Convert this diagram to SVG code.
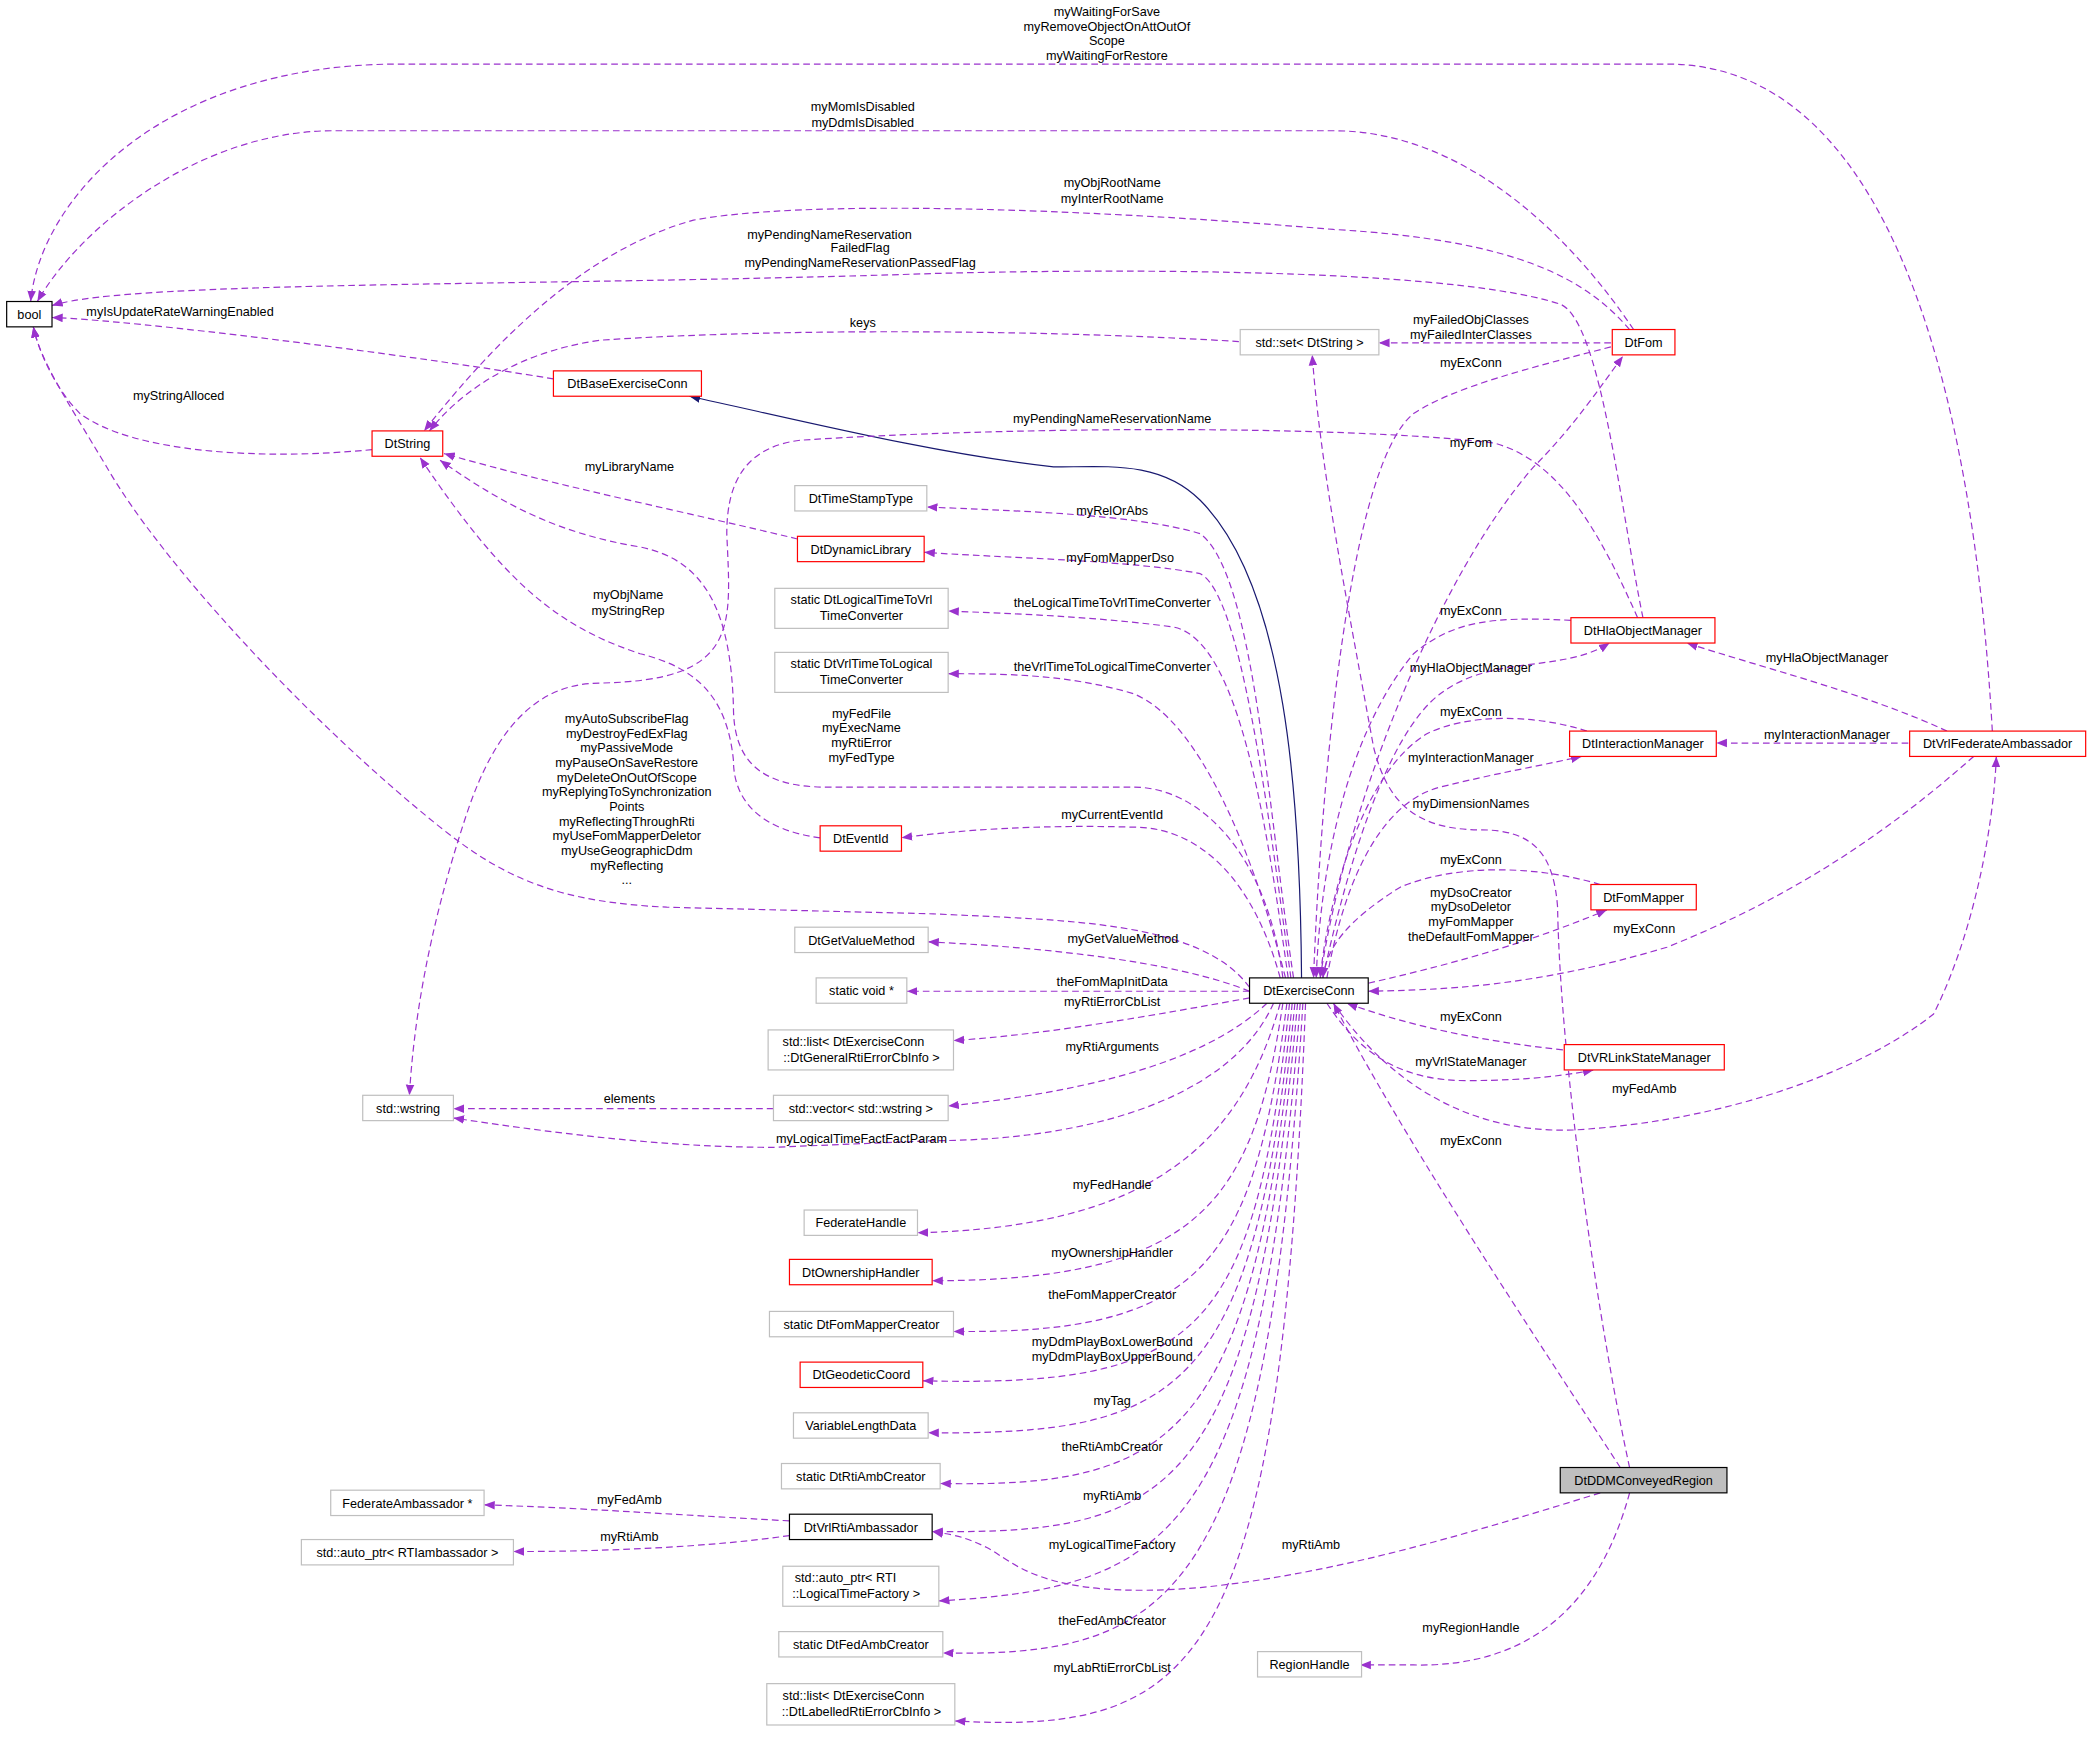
<svg xmlns="http://www.w3.org/2000/svg" width="2091" height="1737" viewBox="0 0 2091 1737">
<defs>
<marker id="a" viewBox="0 0 10 10" refX="10" refY="5" markerWidth="8" markerHeight="8" markerUnits="userSpaceOnUse" orient="auto"><path d="M0,1 L10,5 L0,9 z" fill="#9a32cd"/></marker>
<marker id="n" viewBox="0 0 10 10" refX="10" refY="5" markerWidth="8" markerHeight="8" markerUnits="userSpaceOnUse" orient="auto"><path d="M0,1 L10,5 L0,9 z" fill="#191970"/></marker>
</defs>
<style>
text{font-family:"Liberation Sans",Arial,sans-serif;font-size:9.5px;fill:#000;text-anchor:middle}
.e path{fill:none;stroke:#9a32cd;stroke-dasharray:5,3;marker-end:url(#a);stroke-width:0.9}
.e path.inh{stroke:#191970;stroke-dasharray:none;marker-end:url(#n)}
rect{fill:#fff;stroke-width:0.9}
.g rect{stroke:#bfbfbf}
.r rect{stroke:#ff0000}
.k rect{stroke:#000}
</style>
<rect x="0" y="0" width="2091" height="1737" fill="#fff" stroke="none"/>
<g transform="scale(1.33355,1.3341)">
<g class="e" id="edges">
<path d="M1494,548 C1480,300 1420,48 1250,48 L300,48 C120,48 30,150 23,226"/>
<path d="M1225,247 C1180,180 1100,98 1000,98 L250,98 C150,98 60,170 28,226"/>
<path d="M1222,247 C1190,210 1140,180 1000,172 C800,155 600,150 520,165 C430,190 360,270 318,323"/>
<path d="M1232,463 C1215,380 1200,240 1170,228 C1100,205 900,200 700,205 C400,215 100,210 39,229"/>
<path d="M415,284 C300,265 100,240 39,238"/>
<path d="M929,256 C800,248 600,245 450,255 C380,265 340,300 322,323"/>
<path d="M279,337 C200,345 100,340 60,310 C40,290 28,260 25,245"/>
<path class="inh" d="M976,733 C975,600 965,440 900,375 C870,345 830,350 790,350 C700,340 600,315 517,297"/>
<path d="M1228,463 C1200,400 1170,345 1120,332 C1000,318 750,320 600,330 C560,335 545,360 545,400 C548,470 555,510 450,512 C400,512 370,550 350,610 C320,700 310,770 307,821"/>
<path d="M1208,257 L1034,257"/>
<path d="M1208,260 C1150,275 1090,290 1060,310 C1010,350 990,600 985,733"/>
<path d="M990,733 C1010,600 1080,430 1150,350 C1180,320 1200,290 1217,267"/>
<path d="M1222,1100 C1200,1000 1170,800 1168,680 C1165,640 1150,622 1110,622 C1060,622 1040,600 1030,560 C1010,450 990,350 984,266"/>
<path d="M970,733 C950,600 940,430 900,400 C850,385 760,383 695,380"/>
<path d="M968,733 C950,600 930,445 900,430 C850,420 750,418 693,414"/>
<path d="M966,733 C950,620 930,480 880,470 C820,462 760,460 711,458"/>
<path d="M964,733 C940,640 900,540 850,520 C800,505 750,505 711,505"/>
<path d="M598,404 C520,385 420,365 333,340"/>
<path d="M615,628 C570,622 550,600 550,570 C545,520 520,500 480,490 C420,470 380,440 315,343"/>
<path d="M962,733 C950,640 900,590 850,590 L620,590 C570,590 550,570 550,530 C548,460 530,420 480,410 C420,400 380,380 330,345"/>
<path d="M960,733 C940,660 900,620 850,620 C780,618 720,622 676,628"/>
<path d="M937,740 C900,690 800,690 700,685 L500,680 C420,676 380,660 330,620 C230,540 120,420 80,350 C50,300 30,270 25,245"/>
<path d="M937,743 C880,720 780,710 696,706"/>
<path d="M937,743 L680,743"/>
<path d="M937,748 C870,760 790,775 715,780"/>
<path d="M950,752 C900,800 800,820 711,829"/>
<path d="M580,831 L340,831"/>
<path d="M955,752 C920,830 800,855 700,855 L580,860 C500,860 420,850 340,838"/>
<path d="M960,752 C930,860 860,920 688,924"/>
<path d="M962,752 C940,900 900,960 699,960"/>
<path d="M965,752 C940,950 900,1000 715,998"/>
<path d="M967,752 C940,1000 900,1040 692,1035"/>
<path d="M969,752 C940,1050 880,1075 696,1074"/>
<path d="M971,752 C940,1080 880,1115 705,1112"/>
<path d="M973,752 C940,1120 880,1150 699,1148"/>
<path d="M975,752 C945,1150 880,1190 704,1200"/>
<path d="M977,752 C950,1200 880,1242 707,1239"/>
<path d="M979,752 C960,1250 900,1300 716,1290"/>
<path d="M592,1140 C500,1135 430,1130 363,1128"/>
<path d="M592,1151 C530,1160 450,1163 385,1163"/>
<path d="M1200,1119 C1100,1150 1000,1180 900,1190 C780,1200 760,1170 740,1160 C720,1150 710,1150 699,1148"/>
<path d="M1222,1119 C1200,1200 1150,1250 1060,1248 L1020,1248"/>
<path d="M1215,1100 C1150,1000 1050,850 1000,752"/>
<path d="M1178,465 C1120,462 1090,465 1060,490 C1010,550 990,650 987,733"/>
<path d="M992,733 C1010,650 1040,550 1080,520 C1120,490 1170,505 1207,482"/>
<path d="M1190,548 C1150,535 1100,535 1070,550 C1020,580 995,680 990,733"/>
<path d="M995,733 C1010,650 1040,600 1080,590 C1120,580 1150,575 1186,567"/>
<path d="M1460,548 C1400,520 1320,500 1265,482"/>
<path d="M1431,557 L1287,557"/>
<path d="M1200,663 C1150,648 1090,648 1050,665 C1010,690 995,710 992,733"/>
<path d="M1026,737 C1100,720 1150,705 1205,682"/>
<path d="M1480,567 C1420,620 1350,670 1250,710 C1150,740 1080,742 1026,743"/>
<path d="M1172,787 C1110,780 1060,770 1010,752"/>
<path d="M995,752 C1020,790 1050,810 1100,810 C1150,810 1180,805 1195,802"/>
<path d="M1000,752 C1040,810 1100,850 1180,847 C1300,840 1400,800 1450,760 C1480,700 1495,620 1497,567"/>
</g>
<g id="labels">
<text x="830" y="12">myWaitingForSave</text><text x="830" y="23">myRemoveObjectOnAttOutOf</text><text x="830" y="34">Scope</text><text x="830" y="45">myWaitingForRestore</text>
<text x="647" y="83">myMomIsDisabled</text><text x="647" y="95">myDdmIsDisabled</text>
<text x="834" y="140">myObjRootName</text><text x="834" y="152">myInterRootName</text>
<text x="622" y="179">myPendingNameReservation</text><text x="645" y="189">FailedFlag</text><text x="645" y="200">myPendingNameReservationPassedFlag</text>
<text x="135" y="237">myIsUpdateRateWarningEnabled</text>
<text x="647" y="245">keys</text>
<text x="1103" y="243">myFailedObjClasses</text><text x="1103" y="254">myFailedInterClasses</text>
<text x="1103" y="275">myExConn</text>
<text x="134" y="300">myStringAlloced</text>
<text x="834" y="317">myPendingNameReservationName</text>
<text x="1103" y="335">myFom</text>
<text x="472" y="353">myLibraryName</text>
<text x="834" y="386">myRelOrAbs</text>
<text x="840" y="421">myFomMapperDso</text>
<text x="834" y="455">theLogicalTimeToVrlTimeConverter</text>
<text x="834" y="503">theVrlTimeToLogicalTimeConverter</text>
<text x="471" y="449">myObjName</text><text x="471" y="461">myStringRep</text>
<text x="1103" y="461">myExConn</text>
<text x="1103" y="504">myHlaObjectManager</text>
<text x="1370" y="496">myHlaObjectManager</text>
<text x="1103" y="537">myExConn</text>
<text x="1103" y="571">myInteractionManager</text>
<text x="1370" y="554">myInteractionManager</text>
<text x="1103" y="606">myDimensionNames</text>
<text x="646" y="538">myFedFile</text><text x="646" y="549">myExecName</text><text x="646" y="560">myRtiError</text><text x="646" y="571">myFedType</text>
<text x="470" y="542">myAutoSubscribeFlag</text><text x="470" y="553">myDestroyFedExFlag</text><text x="470" y="564">myPassiveMode</text><text x="470" y="575">myPauseOnSaveRestore</text><text x="470" y="586">myDeleteOnOutOfScope</text><text x="470" y="597">myReplyingToSynchronization</text><text x="470" y="608">Points</text><text x="470" y="619">myReflectingThroughRti</text><text x="470" y="630">myUseFomMapperDeletor</text><text x="470" y="641">myUseGeographicDdm</text><text x="470" y="652">myReflecting</text><text x="470" y="663">...</text>
<text x="834" y="614">myCurrentEventId</text>
<text x="1103" y="648">myExConn</text>
<text x="1103" y="672">myDsoCreator</text><text x="1103" y="683">myDsoDeletor</text><text x="1103" y="694">myFomMapper</text><text x="1103" y="705">theDefaultFomMapper</text>
<text x="1233" y="699">myExConn</text>
<text x="842" y="707">myGetValueMethod</text>
<text x="834" y="739">theFomMapInitData</text>
<text x="834" y="754">myRtiErrorCbList</text>
<text x="1103" y="765">myExConn</text>
<text x="834" y="788">myRtiArguments</text>
<text x="1103" y="799">myVrlStateManager</text>
<text x="1233" y="819">myFedAmb</text>
<text x="472" y="827">elements</text>
<text x="646" y="857">myLogicalTimeFactFactParam</text>
<text x="1103" y="858">myExConn</text>
<text x="834" y="891">myFedHandle</text>
<text x="834" y="942">myOwnershipHandler</text>
<text x="834" y="974">theFomMapperCreator</text>
<text x="834" y="1009">myDdmPlayBoxLowerBound</text><text x="834" y="1020">myDdmPlayBoxUpperBound</text>
<text x="834" y="1053">myTag</text>
<text x="834" y="1088">theRtiAmbCreator</text>
<text x="834" y="1124">myRtiAmb</text>
<text x="472" y="1127">myFedAmb</text>
<text x="472" y="1155">myRtiAmb</text>
<text x="983" y="1161">myRtiAmb</text>
<text x="834" y="1161">myLogicalTimeFactory</text>
<text x="834" y="1218">theFedAmbCreator</text>
<text x="1103" y="1223">myRegionHandle</text>
<text x="834" y="1253">myLabRtiErrorCbList</text>
</g>
<g id="bool" class="k"><rect x="5" y="226" width="34" height="19"/><text x="22" y="239">bool</text></g>
<g id="DtString" class="r"><rect x="279" y="323" width="53" height="19"/><text x="305.5" y="336">DtString</text></g>
<g id="DtBaseExerciseConn" class="r"><rect x="415" y="278" width="111" height="19"/><text x="470.5" y="291">DtBaseExerciseConn</text></g>
<g id="DtTimeStampType" class="g"><rect x="596" y="364" width="99" height="19"/><text x="645.5" y="377">DtTimeStampType</text></g>
<g id="DtDynamicLibrary" class="r"><rect x="598" y="402" width="95" height="19"/><text x="645.5" y="415">DtDynamicLibrary</text></g>
<g id="LogToVrl" class="g"><rect x="581" y="441" width="130" height="30"/><text x="646" y="453">static DtLogicalTimeToVrl</text><text x="646" y="465">TimeConverter</text></g>
<g id="VrlToLog" class="g"><rect x="581" y="489" width="130" height="30"/><text x="646" y="501">static DtVrlTimeToLogical</text><text x="646" y="513">TimeConverter</text></g>
<g id="DtEventId" class="r"><rect x="615" y="619" width="61" height="19"/><text x="645.5" y="632">DtEventId</text></g>
<g id="stdset" class="g"><rect x="930" y="247" width="104" height="19"/><text x="982" y="260">std::set&lt; DtString &gt;</text></g>
<g id="DtFom" class="r"><rect x="1209" y="247" width="47" height="19"/><text x="1232.5" y="260">DtFom</text></g>
<g id="DtHlaObjectManager" class="r"><rect x="1178" y="463" width="108" height="19"/><text x="1232" y="476">DtHlaObjectManager</text></g>
<g id="DtInteractionManager" class="r"><rect x="1177" y="548" width="110" height="19"/><text x="1232" y="561">DtInteractionManager</text></g>
<g id="DtVrlFederateAmbassador" class="r"><rect x="1432" y="548" width="132" height="19"/><text x="1498" y="561">DtVrlFederateAmbassador</text></g>
<g id="DtGetValueMethod" class="g"><rect x="596" y="695" width="100" height="19"/><text x="646" y="708">DtGetValueMethod</text></g>
<g id="staticvoid" class="g"><rect x="612" y="733" width="68" height="19"/><text x="646" y="746">static void *</text></g>
<g id="listGeneral" class="g"><rect x="576" y="772" width="139" height="30"/><text x="640" y="784">std::list&lt; DtExerciseConn</text><text x="646" y="796">::DtGeneralRtiErrorCbInfo &gt;</text></g>
<g id="wstring" class="g"><rect x="272" y="821" width="68" height="19"/><text x="306" y="834">std::wstring</text></g>
<g id="vector" class="g"><rect x="580" y="821" width="131" height="19"/><text x="645.5" y="834">std::vector&lt; std::wstring &gt;</text></g>
<g id="FederateHandle" class="g"><rect x="603" y="907" width="85" height="19"/><text x="645.5" y="920">FederateHandle</text></g>
<g id="DtOwnershipHandler" class="r"><rect x="592" y="944" width="107" height="19"/><text x="645.5" y="957">DtOwnershipHandler</text></g>
<g id="FomMapperCreator" class="g"><rect x="577" y="983" width="138" height="19"/><text x="646" y="996">static DtFomMapperCreator</text></g>
<g id="DtGeodeticCoord" class="r"><rect x="600" y="1021" width="92" height="19"/><text x="646" y="1034">DtGeodeticCoord</text></g>
<g id="VariableLengthData" class="g"><rect x="595" y="1059" width="101" height="19"/><text x="645.5" y="1072">VariableLengthData</text></g>
<g id="RtiAmbCreator" class="g"><rect x="586" y="1097" width="119" height="19"/><text x="645.5" y="1110">static DtRtiAmbCreator</text></g>
<g id="FederateAmbassador" class="g"><rect x="248" y="1117" width="115" height="19"/><text x="305.5" y="1130">FederateAmbassador *</text></g>
<g id="DtVrlRtiAmbassador" class="k"><rect x="592" y="1135" width="107" height="19"/><text x="645.5" y="1148">DtVrlRtiAmbassador</text></g>
<g id="autoRTIamb" class="g"><rect x="226" y="1154" width="159" height="19"/><text x="305.5" y="1167">std::auto_ptr&lt; RTIambassador &gt;</text></g>
<g id="autoLTF" class="g"><rect x="587" y="1174" width="117" height="30"/><text x="634" y="1186">std::auto_ptr&lt; RTI</text><text x="642" y="1198">::LogicalTimeFactory &gt;</text></g>
<g id="FedAmbCreator" class="g"><rect x="584" y="1223" width="123" height="19"/><text x="645.5" y="1236">static DtFedAmbCreator</text></g>
<g id="listLabelled" class="g"><rect x="575" y="1262" width="141" height="31"/><text x="640" y="1274">std::list&lt; DtExerciseConn</text><text x="646" y="1286">::DtLabelledRtiErrorCbInfo &gt;</text></g>
<g id="DtFomMapper" class="r"><rect x="1193" y="663" width="79" height="19"/><text x="1232.5" y="676">DtFomMapper</text></g>
<g id="DtExerciseConn" class="k"><rect x="937" y="733" width="89" height="19"/><text x="981.5" y="746">DtExerciseConn</text></g>
<g id="DtVRLinkStateManager" class="r"><rect x="1173" y="783" width="120" height="19"/><text x="1233" y="796">DtVRLinkStateManager</text></g>
<g id="DtDDMConveyedRegion" class="k"><rect x="1170" y="1100" width="125" height="19" style="fill:#bfbfbf"/><text x="1232.5" y="1113">DtDDMConveyedRegion</text></g>
<g id="RegionHandle" class="g"><rect x="943" y="1238" width="78" height="19"/><text x="982" y="1251">RegionHandle</text></g>
</g>
</svg>
